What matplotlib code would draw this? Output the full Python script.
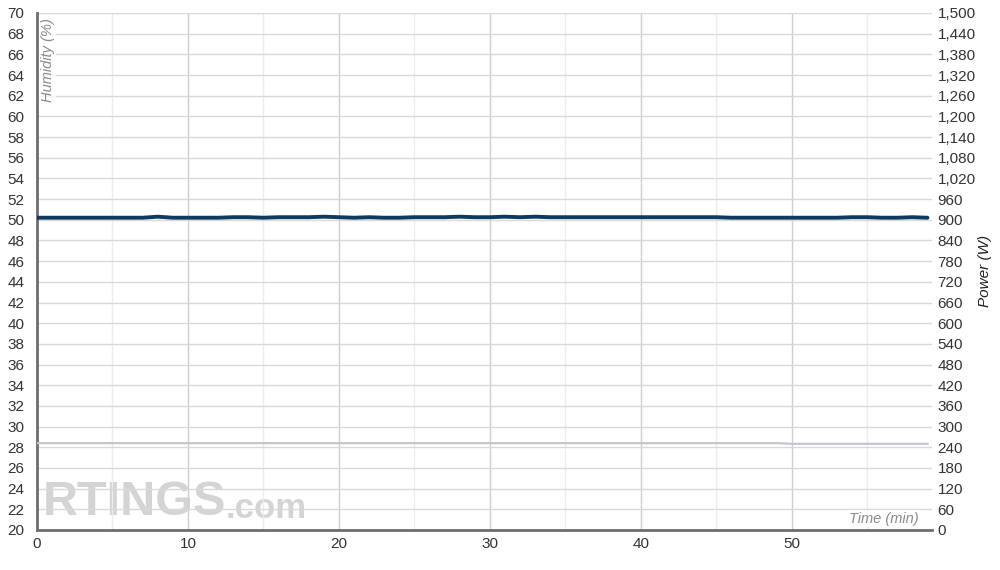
import matplotlib.pyplot as plt
from matplotlib.ticker import FuncFormatter

plt.rcParams['font.family'] = ['Liberation Sans', 'DejaVu Sans']

# data
minutes = list(range(0, 60))
humidity = [50.2, 50.2, 50.2, 50.2, 50.2, 50.2, 50.2, 50.2, 50.3, 50.2,
            50.2, 50.2, 50.2, 50.25, 50.25, 50.2, 50.25, 50.25, 50.25, 50.3,
            50.25, 50.2, 50.25, 50.2, 50.2, 50.25, 50.25, 50.25, 50.3, 50.25,
            50.25, 50.3, 50.25, 50.3, 50.25, 50.25, 50.25, 50.25, 50.25, 50.25,
            50.25, 50.25, 50.25, 50.25, 50.25, 50.25, 50.2, 50.2, 50.2, 50.2,
            50.2, 50.2, 50.2, 50.2, 50.25, 50.25, 50.2, 50.2, 50.25, 50.2]
power = [252] * 50 + [250] * 10

hum_ticks = list(range(20, 71, 2))
pow_ticks = list(range(0, 1501, 60))
time_ticks = [0, 10, 20, 30, 40, 50]

fig = plt.figure(figsize=(10, 5.7), dpi=100)
ax = fig.add_axes([0.037, 0.0702, 0.895, 0.907])
ax2 = ax.twinx()

# watermark, under the grid
wm = ax.text(0.006, 0.01, 'RTINGS', transform=ax.transAxes, fontsize=35,
             fontweight='bold', color='#d4d4d4', ha='left', va='bottom', zorder=0)
ax.annotate('.com', xy=(1, 0), xycoords=wm, xytext=(0, 0), textcoords='offset points',
            fontsize=25, fontweight='bold', color='#d4d4d4', ha='left', va='bottom',
            zorder=0)

# grid
for t in range(5, 60, 10):
    ax.axvline(t, color='#ececec', lw=1, zorder=1)
for t in time_ticks[1:]:
    ax.axvline(t, color='#cfcfcf', lw=1, zorder=1)
for h in hum_ticks[1:]:
    ax.axhline(h, color='#d9d9d9', lw=1, zorder=1)

ax.plot(minutes, humidity, color='#0f3a5f', lw=2.8, zorder=4, solid_capstyle='round')
ax2.plot(minutes, power, color='#c3c6ca', lw=1.6, zorder=3)

ax.set_xlim(0, 59.3)
ax.set_ylim(20, 70)
ax2.set_ylim(0, 1500)
ax.set_xticks(time_ticks)
ax.set_yticks(hum_ticks)
ax2.set_yticks(pow_ticks)
ax2.yaxis.set_major_formatter(FuncFormatter(lambda v, p: f'{int(v):,}'))

ax.tick_params(axis='both', length=0, labelsize=11, labelcolor='#333333')
ax.tick_params(axis='y', pad=9)
ax.tick_params(axis='x', pad=5)
ax2.tick_params(axis='y', length=0, labelsize=11, labelcolor='#333333', pad=4)

for a in (ax, ax2):
    a.spines['top'].set_visible(False)
    a.spines['right'].set_visible(False)
ax2.spines['left'].set_visible(False)
ax2.spines['bottom'].set_visible(False)
ax.spines['left'].set_color('#6e6e6e')
ax.spines['left'].set_linewidth(2)
ax.spines['bottom'].set_color('#6e6e6e')
ax.spines['bottom'].set_linewidth(2)

ax.text(0.012, 0.99, 'Humidity (%)', transform=ax.transAxes, rotation=90,
        ha='center', va='top', fontsize=10.5, style='italic', color='#8a8a8a',
        zorder=6, bbox=dict(facecolor='white', edgecolor='none', alpha=0.75, pad=1))
ax.text(0.985, 0.008, 'Time (min)', transform=ax.transAxes,
        ha='right', va='bottom', fontsize=10.5, style='italic', color='#8a8a8a',
        zorder=6, bbox=dict(facecolor='white', edgecolor='none', alpha=0.75, pad=1))
fig.text(0.985, 0.525, 'Power (W)', rotation=90, ha='center', va='center',
         fontsize=11, style='italic', color='#222222')

fig.savefig('out.png', dpi=100)
